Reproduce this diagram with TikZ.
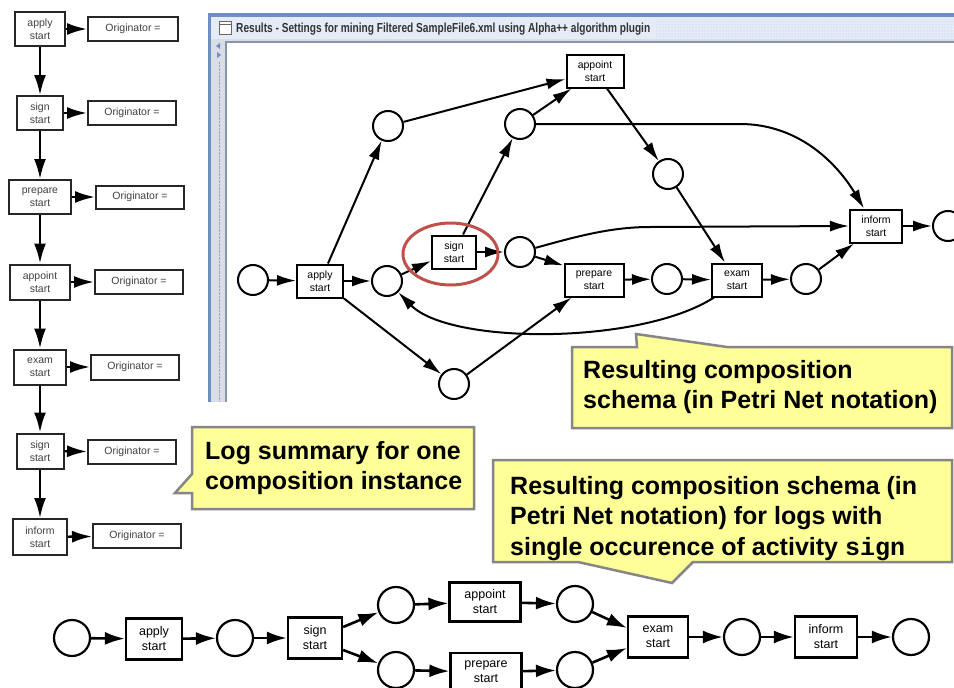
\documentclass[tikz,border=0pt]{standalone}
\usepackage{fontspec}
\setmainfont{Liberation Sans}
\setmonofont{Liberation Mono}
\usepackage{graphicx}
\usetikzlibrary{arrows.meta,patterns}

\definecolor{noteyellow}{RGB}{255,255,153}
\definecolor{notegray}{RGB}{134,134,134}
\definecolor{winblue}{RGB}{112,142,198}
\definecolor{wintitle}{RGB}{229,236,247}
\definecolor{wingutter}{RGB}{216,221,230}
\definecolor{winedge}{RGB}{136,148,168}
\definecolor{markred}{RGB}{192,80,74}

\tikzset{
  logbox/.style={draw=black!85, line width=2pt, align=center, inner sep=0pt,
    font=\fontsize{10.5}{12.5}\selectfont, text=black!75},
  logarrow/.style={line width=2.4pt, -{Latex[length=20pt,width=12pt]}},
  wplace/.style={draw, circle, line width=2pt, minimum size=30pt, inner sep=0pt},
  wtrans/.style={draw, line width=2pt, minimum width=46pt, minimum height=33pt,
    inner sep=0pt, align=center, font=\fontsize{10.5}{12.5}\selectfont},
  warc/.style={line width=2pt, -{Latex[length=19pt,width=11pt]}},
  bplace/.style={draw, circle, line width=2.2pt, minimum size=36pt, inner sep=0pt},
  btrans/.style={draw, line width=2.2pt, minimum height=41pt, inner sep=0pt,
    align=center, font=\fontsize{12.5}{15}\selectfont},
  barc/.style={line width=2.6pt, -{Latex[length=20pt,width=13pt]}},
  notebox/.style={fill=noteyellow, draw=notegray, line width=2.5pt, line join=miter},
  notetext/.style={anchor=north west, inner sep=0pt, align=left,
    font=\bfseries\fontsize{25}{30.5}\selectfont}
}

\begin{document}
\begin{tikzpicture}[x=1pt,y=-1pt]
\useasboundingbox (0,0) rectangle (954,688);
\clip (0,0) rectangle (954,688);

% log summary
\node[logbox, minimum width=50pt, minimum height=34pt] (lapply) at (40,29) {apply\\start};
\node[logbox, minimum width=46pt, minimum height=34pt] (lsign) at (40,113) {sign\\start};
\node[logbox, minimum width=62pt, minimum height=34pt] (lprepare) at (40,197) {prepare\\start};
\node[logbox, minimum width=60pt, minimum height=35pt] (lappoint) at (40,282) {appoint\\start};
\node[logbox, minimum width=52pt, minimum height=35pt] (lexam) at (40,367) {exam\\start};
\node[logbox, minimum width=47pt, minimum height=35pt] (lsignb) at (40,451) {sign\\start};
\node[logbox, minimum width=54pt, minimum height=36pt] (linform) at (40,537) {inform\\start};
\node[logbox, minimum width=90pt, minimum height=24pt] (oapply) at (133,29) {Originator =};
\node[logbox, minimum width=88pt, minimum height=24pt] (osign) at (132,113) {Originator =};
\node[logbox, minimum width=88pt, minimum height=23pt] (oprepare) at (140,197) {Originator =};
\node[logbox, minimum width=88pt, minimum height=24pt] (oappoint) at (139,282) {Originator =};
\node[logbox, minimum width=88pt, minimum height=25pt] (oexam) at (135,367) {Originator =};
\node[logbox, minimum width=88pt, minimum height=24pt] (osignb) at (132,452) {Originator =};
\node[logbox, minimum width=88pt, minimum height=24pt] (oinform) at (137,536) {Originator =};
\draw[logarrow] (lapply) -- (lsign);
\draw[logarrow] (lsign) -- (lprepare);
\draw[logarrow] (lprepare) -- (lappoint);
\draw[logarrow] (lappoint) -- (lexam);
\draw[logarrow] (lexam) -- (lsignb);
\draw[logarrow] (lsignb) -- (linform);
\draw[logarrow] (lapply) -- (oapply);
\draw[logarrow] (lsign) -- (osign);
\draw[logarrow] (lprepare) -- (oprepare);
\draw[logarrow] (lappoint) -- (oappoint);
\draw[logarrow] (lexam) -- (oexam);
\draw[logarrow] (lsignb) -- (osignb);
\draw[logarrow] (linform) -- (oinform);

% mining window
\fill[winblue] (208,13) rectangle (960,402);
\fill[wintitle] (211,17) rectangle (960,39);
\fill[pattern=dots, pattern color=winblue!55] (655,19) rectangle (960,38);
\fill[wingutter] (211,39) rectangle (960,402);
\fill[white] (226,43) rectangle (960,402);
\draw[winedge, line width=2pt] (226,402) -- (226,42) -- (960,42);
\draw[densely dotted, black!35] (219,62) -- (219,402);
\fill[winblue] (216,46) -- (220,43) -- (220,49) -- cycle;
\fill[winblue] (217,52) -- (221,55) -- (217,58) -- cycle;
\draw[black!60, fill=white, line width=0.8pt] (219,21) rectangle (231,34);
\draw[black!60, line width=0.8pt] (219,24) -- (231,24);
\node[anchor=base west, inner sep=0pt, text=black!80] (wtitle) at (236,32)
  {\resizebox{414pt}{9.5pt}{\bfseries Results - Settings for mining Filtered SampleFile6.xml using Alpha++ algorithm plugin}};

\node[wplace] (w0) at (253,280) {};
\node[wtrans] (wapply) at (320,281) {apply\\start};
\node[wplace] (w1) at (387,281) {};
\node[wplace] (w2) at (388,126) {};
\node[wplace] (w3) at (454,384) {};
\node[wtrans, minimum width=44pt] (wsign) at (454,252) {sign\\start};
\node[wplace] (w4) at (520,252) {};
\node[wplace] (w5) at (520,124) {};
\node[wtrans, minimum width=57pt] (wappoint) at (595,71) {appoint\\start};
\node[wtrans, minimum width=59pt] (wprepare) at (594,280) {prepare\\start};
\node[wplace] (w6) at (668,174) {};
\node[wplace] (w7) at (667,279) {};
\node[wtrans, minimum width=50pt] (wexam) at (737,280) {exam\\start};
\node[wplace] (w8) at (806,279) {};
\node[wtrans, minimum width=52pt] (winform) at (876,226) {inform\\start};
\node[wplace] (w9) at (948,226) {};
\coordinate (wbend1) at (740,124);
\coordinate (wbend2) at (650,227);

\draw[warc] (w0) -- (wapply);
\draw[warc] (wapply) -- (w1);
\draw[warc] ([xshift=8pt]wapply.north) -- (w2);
\draw[warc] (wapply.south east) -- (w3);
\draw[warc] (w1) -- ([yshift=-9pt]wsign.west);
\draw[warc] (wsign) -- (w4);
\draw[warc] ([xshift=9pt]wsign.north) -- (w5);
\draw[warc] (w2) -- ([yshift=-8pt]wappoint.west);
\draw[warc] (w5) -- ([xshift=6pt]wappoint.south west);
\draw[warc] ([xshift=12pt]wappoint.south) -- (w6);
\draw[warc] (w6) -- ([xshift=-12pt]wexam.north);
\draw[warc] (w4) -- ([yshift=-3pt]wprepare.north west);
\draw[warc] (w3) -- ([xshift=8pt]wprepare.south west);
\draw[warc] (wprepare) -- (w7);
\draw[warc] (w7) -- (wexam);
\draw[warc] (wexam) -- (w8);
\draw[warc] (w8) -- ([xshift=5pt]winform.south west);
\draw[warc] (winform) -- (w9);
\draw[warc] (w5.east) -- (wbend1) .. controls (800,124) and (838,165) .. ([xshift=-12pt]winform.north);
\draw[warc] (w4.15) .. controls (575,237) and (610,227) .. (wbend2) -- (winform.west);
\draw[warc] ([xshift=3pt]wexam.south west) .. controls (640,345) and (450,345) .. (w1.south east);
\draw[markred, line width=3pt] (450.5,254) ellipse (47.5 and 31);

% single occurrence net
\node[bplace] (b0) at (72,638) {};
\node[btrans, minimum width=56pt] (bapply) at (154,639) {apply\\start};
\node[bplace] (b1) at (235,638) {};
\node[btrans, minimum width=54pt] (bsign) at (315,638) {sign\\start};
\node[bplace] (b2) at (396,605) {};
\node[bplace] (b3) at (396,670) {};
\node[btrans, minimum width=71pt, minimum height=39pt] (bappoint) at (485,602) {appoint\\start};
\node[btrans, minimum width=71pt, minimum height=38pt] (bprepare) at (486,672) {prepare\\start};
\node[bplace] (b4) at (575,604) {};
\node[bplace] (b5) at (575,670) {};
\node[btrans, minimum width=60pt] (bexam) at (658,637) {exam\\start};
\node[bplace] (b6) at (742,637) {};
\node[btrans, minimum width=62pt] (binform) at (826,637) {inform\\start};
\node[bplace] (b7) at (911,637) {};
\draw[barc] (b0) -- (bapply);
\draw[barc] (bapply) -- (b1);
\draw[barc] (b1) -- (bsign);
\draw[barc] ([yshift=11pt]bsign.east) -- (b2);
\draw[barc] ([yshift=-12pt]bsign.east) -- (b3);
\draw[barc] (b2) -- (bappoint);
\draw[barc] (b3) -- (bprepare);
\draw[barc] (bappoint) -- (b4);
\draw[barc] (bprepare) -- (b5);
\draw[barc] (b4) -- ([yshift=9pt]bexam.west);
\draw[barc] (b5) -- ([yshift=-11pt]bexam.west);
\draw[barc] (bexam) -- (b6);
\draw[barc] (b6) -- (binform);
\draw[barc] (binform) -- (b7);

% notes
\draw[notebox] (572,347) -- (637,347) -- (636,334) -- (727,347) -- (952,347) -- (952,428) -- (572,428) -- cycle;
\node[notetext] (noteresult) at (583,360) {Resulting composition\\schema (in Petri Net notation)};
\draw[notebox] (192,427) -- (474,427) -- (474,509) -- (192,509) -- (192,493) -- (175,493) -- (192,474) -- cycle;
\node[notetext] (notelog) at (205,441) {Log summary for one\\composition instance};
\draw[notebox] (493,460) -- (952,460) -- (952,562) -- (693,562) -- (672,583) -- (578,562) -- (493,562) -- cycle;
\node[notetext] (notesingle) at (510,476) {Resulting composition schema (in\\Petri Net notation) for logs with\\single occurence of activity \texttt{sign}};
\end{tikzpicture}
\end{document}
